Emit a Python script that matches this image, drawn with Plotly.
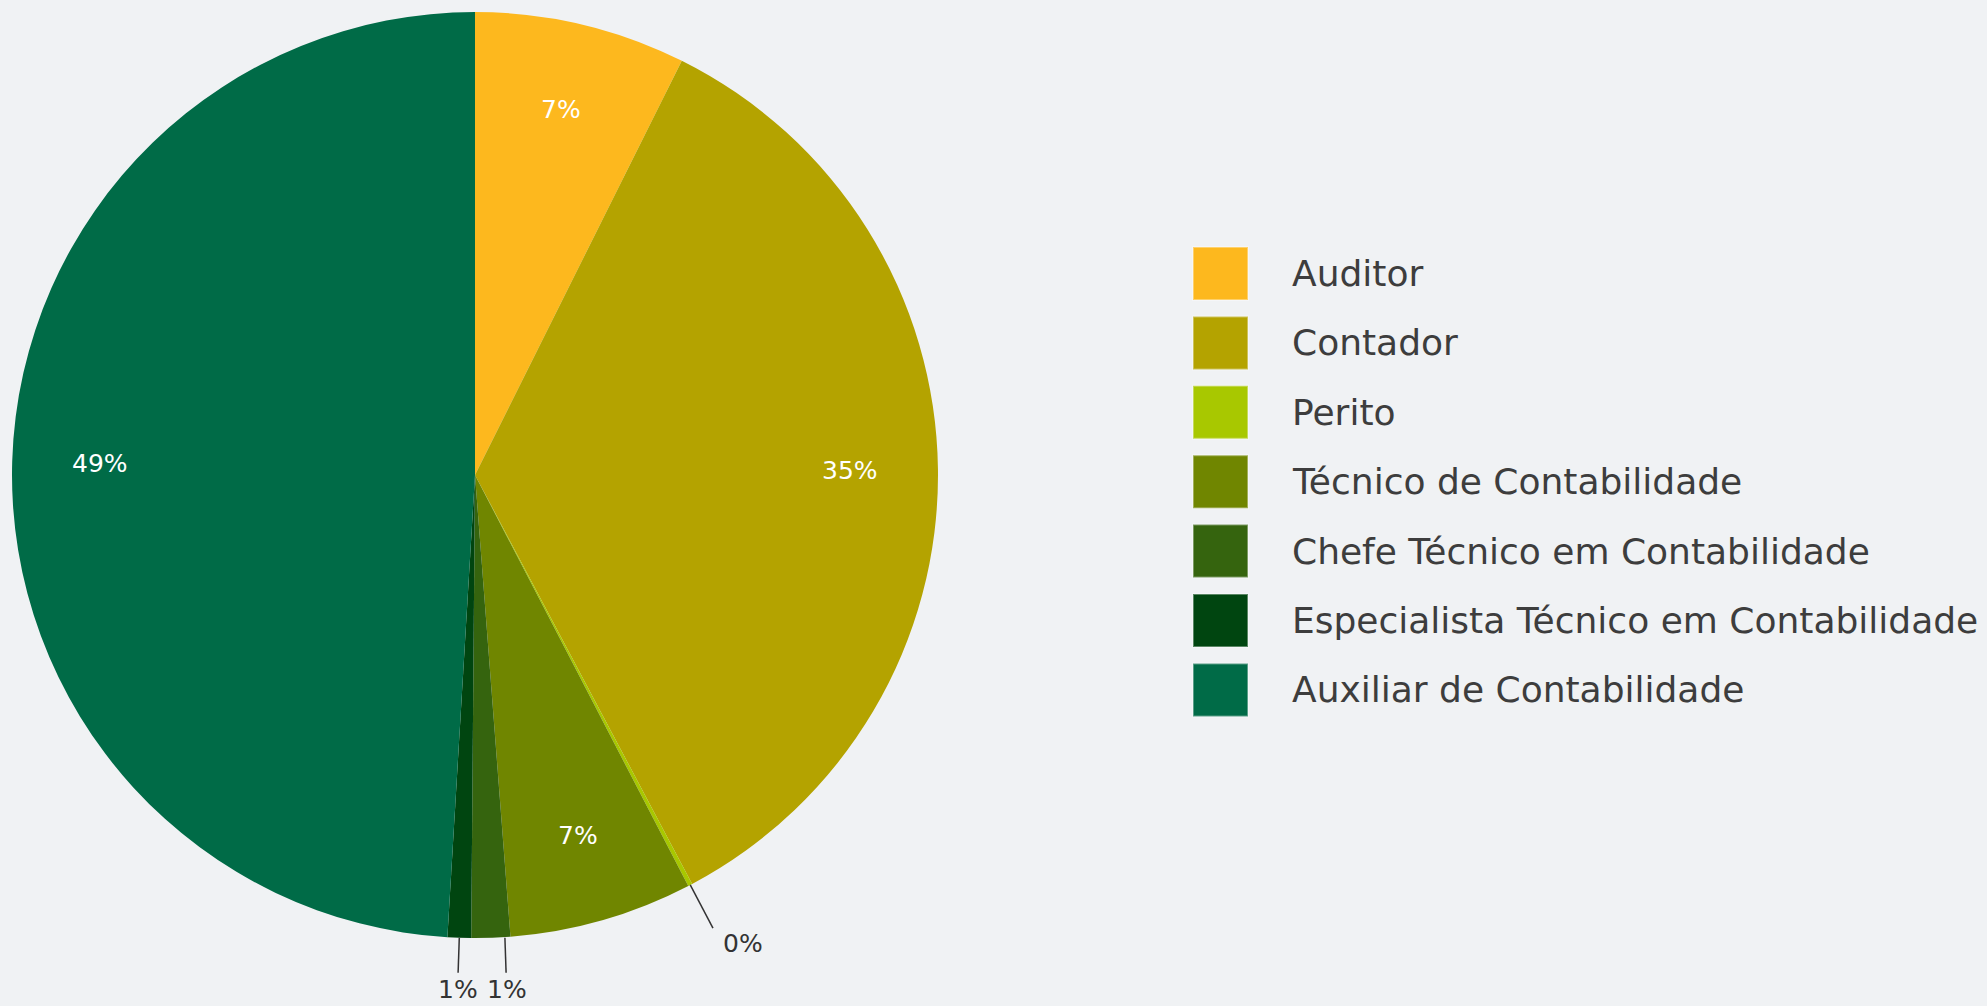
import math
import plotly.graph_objects as go

categories = ["Auditor", "Contador", "Perito", "Técnico de Contabilidade",
              "Chefe Técnico em Contabilidade", "Especialista Técnico em Contabilidade",
              "Auxiliar de Contabilidade"]
shares = [7.37, 34.86, 0.15, 6.40, 1.35, 0.82, 49.05]
colors = ["#FDB81E", "#B4A300", "#A8C800", "#708600", "#35640E", "#004510", "#006B47"]
outside = [False, False, True, False, True, True, False]

BG = "#F0F2F4"
FONT = "DejaVu Sans"
W, H = 1987, 1006
ml, mt, mb = 12, 12, 68
pie_d = H - mt - mb
plot_w = W - ml
cx, cy, R = ml + pie_d / 2, mt + pie_d / 2, pie_d / 2


def px2paper(x, y):
    return (x - ml) / plot_w, (H - mb - y) / pie_d


def round_to_100(vals):
    """Largest-remainder rounding so that the shown percentages sum to 100."""
    tot = sum(vals)
    raw = [v / tot * 100 for v in vals]
    fl = [math.floor(r) for r in raw]
    left = 100 - sum(fl)
    order = sorted(range(len(raw)), key=lambda i: raw[i] - fl[i], reverse=True)
    for i in order[:left]:
        fl[i] += 1
    return fl


fig = go.Figure()
fig.add_trace(go.Pie(
    labels=categories, values=shares, sort=False, direction="clockwise", rotation=0,
    marker=dict(colors=colors, line=dict(width=0)),
    textinfo="none",
    domain=dict(x=[0, pie_d / plot_w], y=[0, 1]),
    showlegend=False, hoverinfo="label+percent",
))

shapes, annotations = [], []

pcts = round_to_100(shares)
total = sum(shares)
cum = 0.0
out_items = []
for v, out, p in zip(shares, outside, pcts):
    mid = (cum + v / 2) / total * 2 * math.pi
    cum += v
    s, c = math.sin(mid), -math.cos(mid)
    if not out:
        x, y = px2paper(cx + 0.81 * R * s, cy + 0.81 * R * c)
        annotations.append(dict(xref="paper", yref="paper", x=x, y=y, text=f"{p}%",
                                showarrow=False, xanchor="center", yanchor="middle",
                                font=dict(family=FONT, size=25, color="white")))
    else:
        L = 34 + 32 * abs(s)
        out_items.append(dict(s=s, c=c, p=p, sx=cx + R * s, sy=cy + R * c,
                              ex=cx + (R + L) * s, ey=cy + (R + L) * c))

# keep neighbouring outside labels apart (shift the right-hand one)
MIN_GAP = 48
out_items.sort(key=lambda d: d["ex"])
for a, b in zip(out_items, out_items[1:]):
    if abs(a["ey"] - b["ey"]) < 30 and b["ex"] - a["ex"] < MIN_GAP:
        push = MIN_GAP - (b["ex"] - a["ex"])
        b["ex"] += push
        b["sx"] += push

for d in out_items:
    s, c = d["s"], d["c"]
    x0, y0 = px2paper(d["sx"], d["sy"])
    x1, y1 = px2paper(d["ex"], d["ey"])
    shapes.append(dict(type="line", xref="paper", yref="paper", x0=x0, y0=y0, x1=x1, y1=y1,
                       line=dict(color="#333333", width=1.5)))
    tx, ty = px2paper(d["ex"] + 17 * s, d["ey"] + 17 * c)
    xa = "left" if s > 0.3 else ("right" if s < -0.3 else "center")
    annotations.append(dict(xref="paper", yref="paper", x=tx, y=ty, text=f"{d['p']}%",
                            showarrow=False, xanchor=xa, yanchor="middle",
                            font=dict(family=FONT, size=25, color="#333333")))

# custom legend built from the category list
y0_px, step = 273.5, 69.4
sw_x0, sw_x1, sw_h = 1193, 1248, 53
text_x = 1290
for i, (name, col) in enumerate(zip(categories, colors)):
    yc = y0_px + i * step
    xa_, ya_ = px2paper(sw_x0, yc + sw_h / 2)
    xb_, yb_ = px2paper(sw_x1, yc - sw_h / 2)
    shapes.append(dict(type="rect", xref="paper", yref="paper", x0=xa_, x1=xb_, y0=ya_, y1=yb_,
                       fillcolor=col, line=dict(color="rgba(255,255,255,0.35)", width=2)))
    tx, ty = px2paper(text_x, yc)
    annotations.append(dict(xref="paper", yref="paper", x=tx, y=ty, xanchor="left",
                            yanchor="middle", text=name, showarrow=False,
                            font=dict(family=FONT, size=36, color="#3d3d3d")))

fig.update_layout(
    width=W, height=H, autosize=False,
    margin=dict(l=ml, r=0, t=mt, b=mb),
    paper_bgcolor=BG, plot_bgcolor=BG,
    font=dict(family=FONT),
    shapes=shapes, annotations=annotations,
)
fig.write_html("out.html", config={"displayModeBar": False},
               post_script="document.body.style.margin='0';document.body.style.overflow='hidden';")
